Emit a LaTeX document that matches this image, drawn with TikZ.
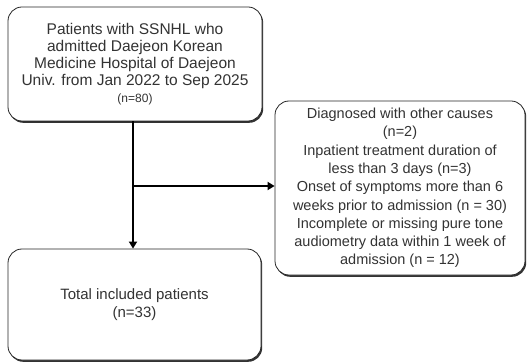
\documentclass[tikz,border=0pt]{standalone}
\usepackage{fontspec}
\setmainfont{Liberation Sans}
\usetikzlibrary{shadows,arrows.meta}
\begin{document}
\begin{tikzpicture}[x=1pt,y=-1pt,
  box/.style={draw=black!85, line width=0.8pt, rounded corners=14pt, fill=white,
    drop shadow={shadow xshift=1.2pt, shadow yshift=-1.8pt, fill=black!80, opacity=1},
    align=center, inner sep=0pt, text=black!80},
  conn/.style={draw=black, line width=2.2pt},
  tip/.style={-{Triangle[length=7pt,width=8pt]}}]
\useasboundingbox (0,0) rectangle (527,363);
\node[box, minimum width=254pt, minimum height=114pt,
  font={\fontsize{15.5}{17}\selectfont}] (top) at (135,64)
  {Patients with SSNHL who\\
   admitted Daejeon Korean\\
   Medicine Hospital of Daejeon\\
   Univ. from Jan 2022 to Sep 2025\\
   {\fontsize{12}{13}\selectfont (n=80)}};
\node[box, minimum width=250pt, minimum height=174pt,
  font={\fontsize{14.5}{18.3}\selectfont}] (right) at (400,188)
  {Diagnosed with other causes\\
   (n=2)\\
   Inpatient treatment duration of\\
   less than 3 days (n=3)\\
   Onset of symptoms more than 6\\
   weeks prior to admission (n = 30)\\
   Incomplete or missing pure tone\\
   audiometry data within 1 week of\\
   admission (n = 12)};
\node[box, minimum width=253pt, minimum height=111pt,
  font={\fontsize{15}{17.5}\selectfont}] (bot) at (134.5,304.5)
  {Total included patients\\
   (n=33)};
\coordinate (brk) at (133,186);
\draw[conn, tip] (133,0 |- top.south) -- (133,0 |- bot.north);
\draw[conn, line width=2pt, tip] (brk) -- (right.west |- brk);
\end{tikzpicture}
\end{document}
